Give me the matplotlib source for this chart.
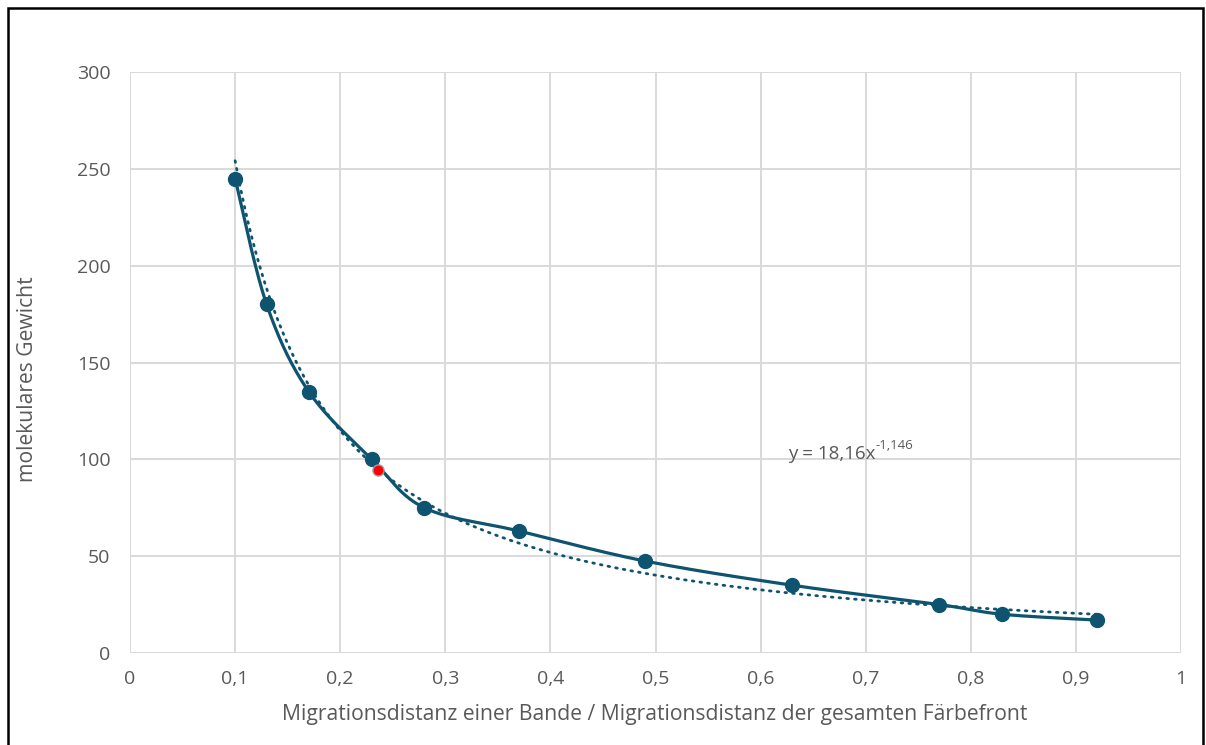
import numpy as np
import matplotlib
matplotlib.use("Agg")
import matplotlib.pyplot as plt
from matplotlib.patches import Rectangle

# ---- data ----
x_vals = [0.10, 0.13, 0.17, 0.23, 0.28, 0.37, 0.49, 0.63, 0.77, 0.83, 0.92]
y_vals = [245, 180, 135, 100, 75, 63, 47.5, 35, 25, 20, 17]
sample_x = [0.236]
sample_y = [94.5]
fit_coef = 18.16
fit_exp = -1.146
x_ticks = [0, 0.1, 0.2, 0.3, 0.4, 0.5, 0.6, 0.7, 0.8, 0.9, 1]
x_tick_labels = ["0", "0,1", "0,2", "0,3", "0,4", "0,5", "0,6", "0,7", "0,8", "0,9", "1"]
y_ticks = [0, 50, 100, 150, 200, 250, 300]
eq_label = "y = 18,16x"
eq_exp_label = "-1,146"

plt.rcParams['font.family'] = ['Open Sans', 'DejaVu Sans']
COL = '#0E5470'
GRID = '#D9D9D9'
TXT = '#595959'

fig = plt.figure(figsize=(12.06, 7.45), dpi=100)
ax = fig.add_axes([130/1206, 92/745, 1051/1206, 581/745])
ax.set_xlim(0, 1)
ax.set_ylim(0, 300)

# Excel-style smoothed line (Catmull-Rom Bezier in screen space)
sx, sy = 1051.0, 581.0 / 300.0
P = np.column_stack([np.array(x_vals) * sx, np.array(y_vals) * sy])
pts = []
n = len(P)
t = np.linspace(0, 1, 40)
for i in range(n - 1):
    p0 = P[i]
    p3 = P[i + 1]
    pm = P[i - 1] if i > 0 else P[i]
    pp = P[i + 2] if i + 2 < n else P[i + 1]
    c1 = p0 + (p3 - pm) / 6.0
    c2 = p3 - (pp - p0) / 6.0
    seg = ((1 - t)[:, None] ** 3 * p0 + 3 * ((1 - t) ** 2 * t)[:, None] * c1
           + 3 * ((1 - t) * t ** 2)[:, None] * c2 + (t ** 3)[:, None] * p3)
    pts.append(seg)
pts = np.vstack(pts)
ax.plot(pts[:, 0] / sx, pts[:, 1] / sy, color=COL, lw=2.3, zorder=3, solid_capstyle='round')

# trendline
xf = np.linspace(min(x_vals), max(x_vals), 400)
ax.plot(xf, fit_coef * xf ** fit_exp, color=COL, lw=2.0, ls=(0, (0.6, 2.2)),
        dash_capstyle='round', zorder=3)

ax.plot(x_vals, y_vals, 'o', color=COL, ms=10, zorder=4)
ax.plot(sample_x, sample_y, 'o', color='#FF0000', ms=8, mec='#8FA3B0', mew=1.0, zorder=5)

# grid / axes
ax.set_xticks(x_ticks)
ax.set_xticklabels(x_tick_labels)
ax.set_yticks(y_ticks)
ax.grid(True, color=GRID, lw=1.4, zorder=0)
for s in ax.spines.values():
    s.set_visible(False)
ax.axhline(0, color=GRID, lw=1.4, zorder=1)
ax.axhline(300, color=GRID, lw=1.4, zorder=1)
ax.axvline(0, color=GRID, lw=1.4, zorder=1)
ax.axvline(1, color=GRID, lw=1.4, zorder=1)
ax.tick_params(length=0, labelsize=14, labelcolor=TXT)
ax.tick_params(axis='x', pad=12)
ax.tick_params(axis='y', pad=14)

ax.set_xlabel("Migrationsdistanz einer Bande / Migrationsdistanz der gesamten Färbefront",
              fontsize=15.2, color=TXT, va='center')
ax.xaxis.set_label_coords(0.4995, -0.105)
ax.set_ylabel("molekulares Gewicht", fontsize=15.2, color=TXT, va='center')
ax.yaxis.set_label_coords(-0.098, 0.472)

t1 = ax.text(0.626, 103, eq_label, fontsize=13.5, color=TXT, ha='left', va='center')
ax.annotate(eq_exp_label, xy=(1.0, 0.6), xycoords=t1, fontsize=9.5, color=TXT,
            ha='left', va='bottom')

fig.patches.append(Rectangle((8/1206, -0.02), 1195/1206, (745-8)/745 + 0.02,
                             transform=fig.transFigure, fill=False, ec='black', lw=1.8))

fig.savefig("out.png", dpi=100)
